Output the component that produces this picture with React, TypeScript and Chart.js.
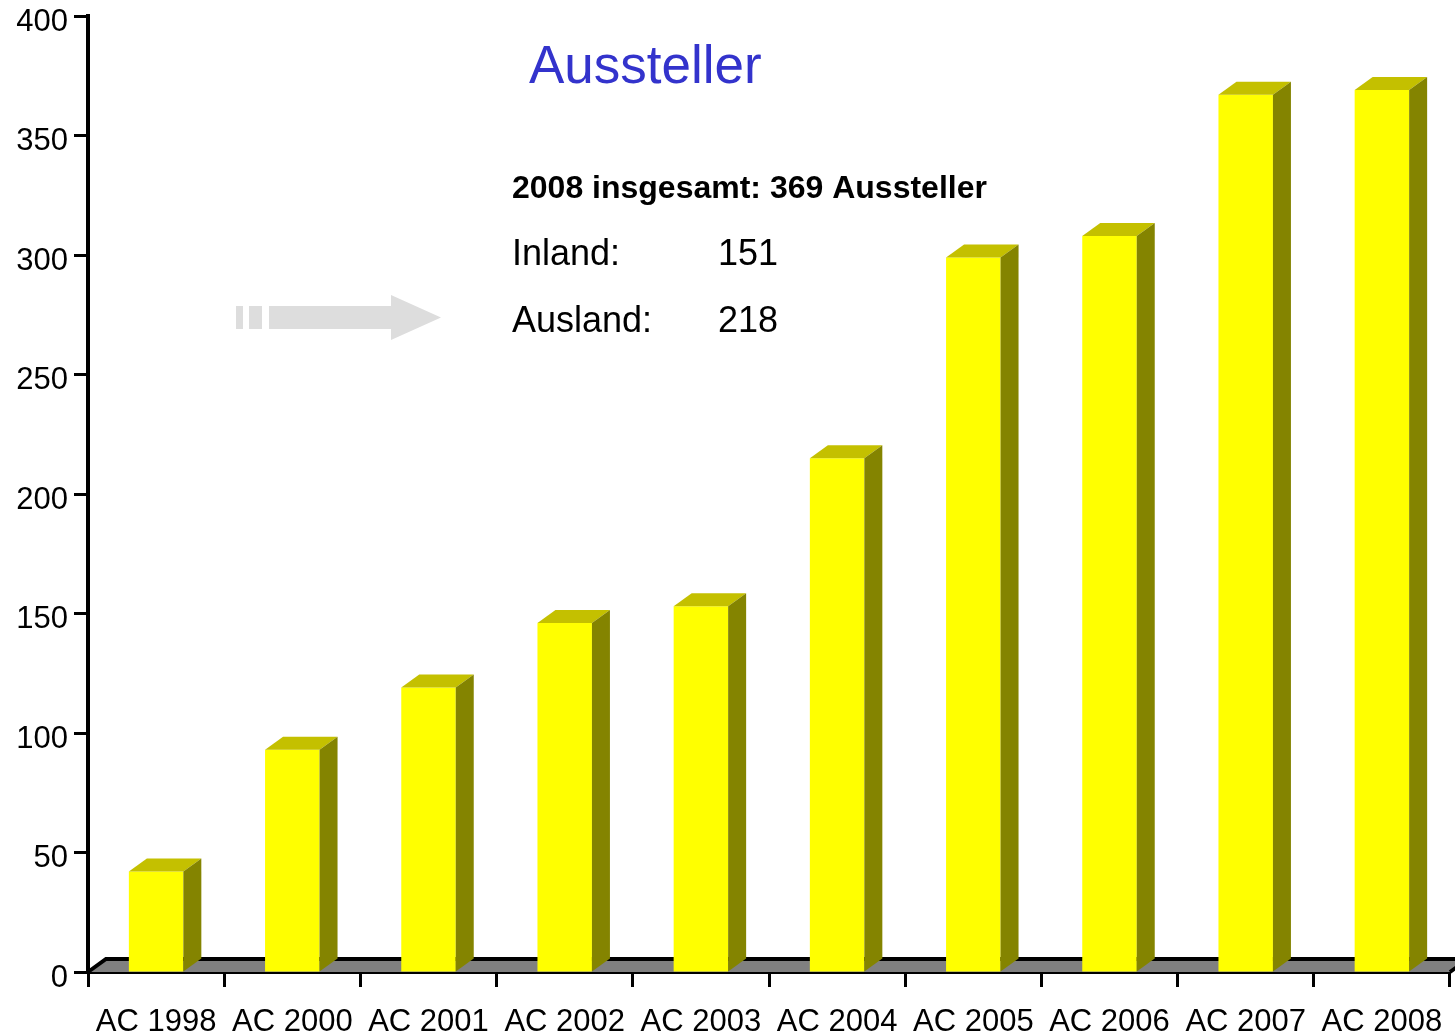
import { useEffect, useRef } from 'react';
import { Chart, registerables } from 'chart.js';

Chart.register(...registerables);

// ---- data ----
const categories = [
  'AC 1998', 'AC 2000', 'AC 2001', 'AC 2002', 'AC 2003',
  'AC 2004', 'AC 2005', 'AC 2006', 'AC 2007', 'AC 2008',
];
const exhibitors = [42, 93, 119, 146, 153, 215, 299, 308, 367, 369];
const yMin = 0;
const yMax = 400;
const yStep = 50;
const chartTitle = 'Aussteller';
const summaryLine = '2008 insgesamt: 369 Aussteller';
const splitLabels = ['Inland:', 'Ausland:'];
const splitValues = [151, 218];

// ---- styling ----
const FONT = '"Liberation Sans", Arial, Helvetica, sans-serif';
const DX = 18;
const DY = 13;
const FRONT = '#FFFF00';
const TOP = '#C4C000';
const SIDE = '#848400';
const FLOOR = '#808080';

const floorPlugin = {
  id: 'floor3d',
  beforeDatasetsDraw(chart: any) {
    const { ctx, chartArea } = chart;
    const B = chart.scales.y.getPixelForValue(0);
    const L = chartArea.left;
    const R = chartArea.right;
    ctx.save();
    ctx.beginPath();
    ctx.moveTo(L, B);
    ctx.lineTo(L + DX, B - DY);
    ctx.lineTo(R + DX, B - DY);
    ctx.lineTo(R, B);
    ctx.closePath();
    ctx.fillStyle = FLOOR;
    ctx.fill();
    ctx.beginPath();
    ctx.moveTo(L, B);
    ctx.lineTo(L + DX, B - DY);
    ctx.lineTo(R + DX, B - DY);
    ctx.lineTo(R, B);
    ctx.strokeStyle = '#000';
    ctx.lineWidth = 4;
    ctx.stroke();
    ctx.restore();
  },
};

const bars3dPlugin = {
  id: 'bars3d',
  afterDatasetsDraw(chart: any) {
    const { ctx } = chart;
    const meta = chart.getDatasetMeta(0);
    ctx.save();
    meta.data.forEach((bar: any) => {
      const { x, y, base, width } = bar.getProps(['x', 'y', 'base', 'width'], true);
      const l = x - width / 2;
      const r = x + width / 2;
      ctx.beginPath();
      ctx.moveTo(l, y);
      ctx.lineTo(l + DX, y - DY);
      ctx.lineTo(r + DX, y - DY);
      ctx.lineTo(r, y);
      ctx.closePath();
      ctx.fillStyle = TOP;
      ctx.fill();
      ctx.beginPath();
      ctx.moveTo(r, y);
      ctx.lineTo(r + DX, y - DY);
      ctx.lineTo(r + DX, base - DY);
      ctx.lineTo(r, base);
      ctx.closePath();
      ctx.fillStyle = SIDE;
      ctx.fill();
    });
    ctx.restore();
  },
};

const annotationPlugin = {
  id: 'annotations',
  afterDraw(chart: any) {
    const { ctx } = chart;
    ctx.save();
    ctx.textAlign = 'left';
    ctx.textBaseline = 'alphabetic';
    ctx.fillStyle = '#3333CC';
    ctx.font = `53px ${FONT}`;
    ctx.fillText(chartTitle, 529, 83);
    ctx.fillStyle = '#000';
    ctx.font = `bold 32px ${FONT}`;
    ctx.fillText(summaryLine, 512, 198);
    ctx.font = `36px ${FONT}`;
    splitLabels.forEach((lab, i) => {
      const yb = 265 + i * 67;
      ctx.fillText(lab, 512, yb);
      ctx.fillText(String(splitValues[i]), 718, yb);
    });
    // arrow
    ctx.fillStyle = '#DDDDDD';
    ctx.fillRect(236, 306, 7, 23);
    ctx.fillRect(249, 306, 13, 23);
    ctx.beginPath();
    ctx.moveTo(269, 306);
    ctx.lineTo(391, 306);
    ctx.lineTo(391, 295);
    ctx.lineTo(441, 317.5);
    ctx.lineTo(391, 340);
    ctx.lineTo(391, 329);
    ctx.lineTo(269, 329);
    ctx.closePath();
    ctx.fill();
    ctx.restore();
  },
};

export default function App() {
  const ref = useRef<HTMLCanvasElement | null>(null);

  useEffect(() => {
    if (!ref.current) return;
    Chart.defaults.font.family = FONT;
    const chart = new Chart(ref.current, {
      type: 'bar',
      data: {
        labels: categories,
        datasets: [
          {
            data: exhibitors,
            backgroundColor: FRONT,
            borderWidth: 0,
            barPercentage: 0.4,
            categoryPercentage: 1,
          },
        ],
      },
      options: {
        animation: false,
        responsive: false,
        layout: { padding: { top: 16, right: 5, left: 0, bottom: 0 } },
        plugins: {
          legend: { display: false },
          tooltip: { enabled: false },
          title: { display: false },
        },
        scales: {
          x: {
            z: 1,
            grid: {
              offset: true,
              drawOnChartArea: false,
              drawTicks: true,
              tickLength: 15,
              tickWidth: 3,
              tickColor: '#000',
            },
            border: { display: true, color: '#000', width: 4 },
            ticks: {
              color: '#000',
              font: { size: 31, family: FONT },
              padding: 17,
              maxRotation: 0,
              autoSkip: false,
            },
            afterFit(scale: any) {
              scale.height = 64;
              scale.paddingLeft = 0;
              scale.paddingRight = 0;
            },
          },
          y: {
            min: yMin,
            max: yMax,
            grid: {
              drawOnChartArea: false,
              drawTicks: true,
              tickLength: 14,
              tickWidth: 3,
              tickColor: '#000',
            },
            border: { display: true, color: '#000', width: 4 },
            ticks: {
              stepSize: yStep,
              color: '#000',
              font: { size: 31, family: FONT },
              padding: 6,
              labelOffset: 6,
            },
            afterFit(scale: any) {
              scale.width = 88;
              scale.paddingTop = 0;
              scale.paddingBottom = 0;
            },
          },
        },
      },
      plugins: [floorPlugin, bars3dPlugin, annotationPlugin],
    });
    return () => chart.destroy();
  }, []);

  return (
    <div style={{ position: 'fixed', left: 0, top: 0, width: 1455, height: 1036, background: '#fff' }}>
      <canvas ref={ref} width={1455} height={1036} style={{ display: 'block' }} />
    </div>
  );
}
